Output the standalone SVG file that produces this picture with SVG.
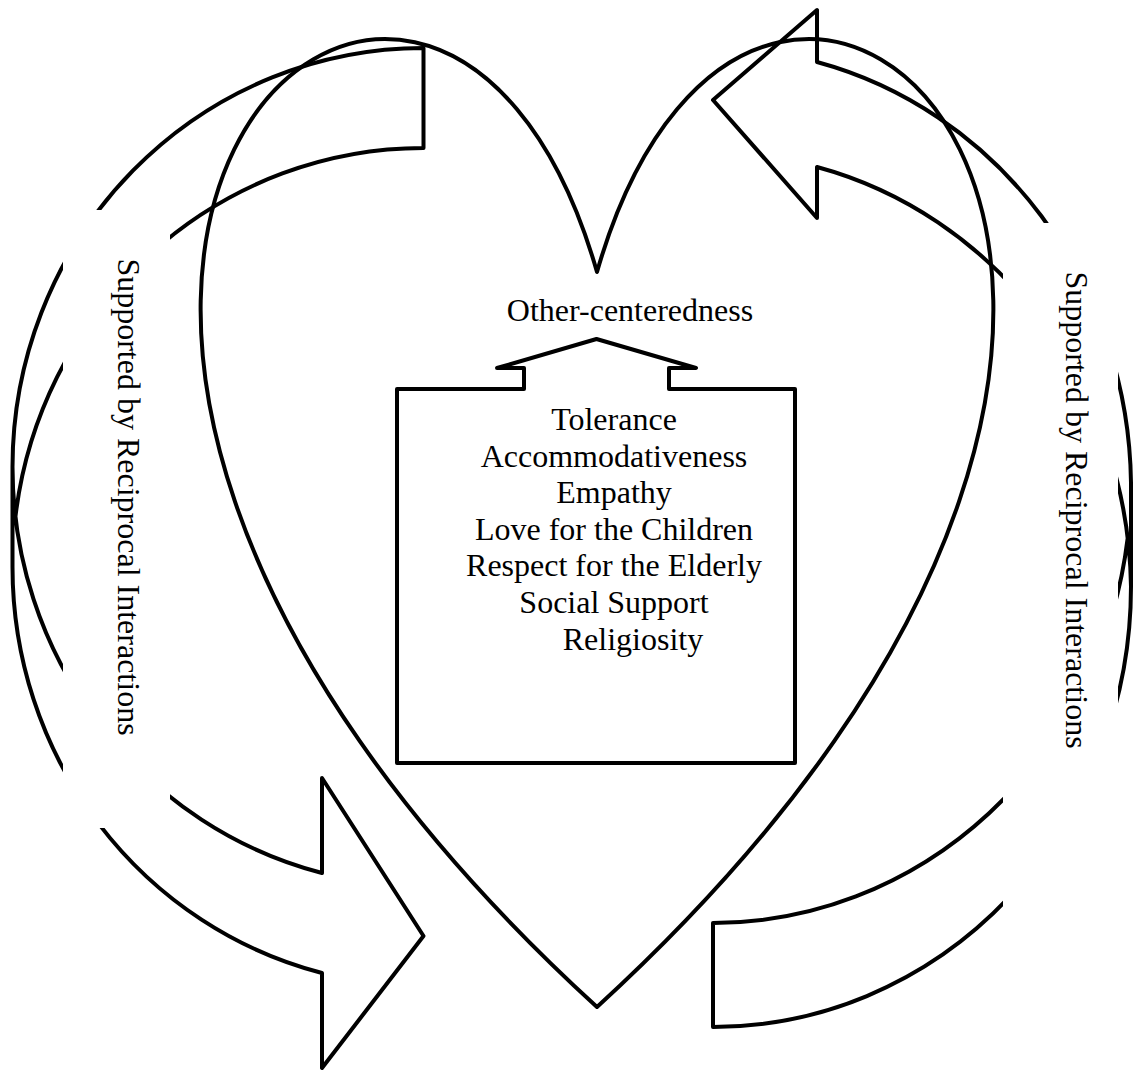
<svg xmlns="http://www.w3.org/2000/svg" width="1136" height="1070" viewBox="0 0 1136 1070">
  <style>
    .ln { fill: none; stroke: #000; stroke-width: 4; stroke-linejoin: round; }
    .box { fill: #fff; stroke: #000; stroke-width: 4; stroke-linejoin: round; }
    .mask { fill: #fff; stroke: none; }
    text { font-family: "Liberation Serif", "Times New Roman", serif; font-size: 32px; fill: #000; }
    .c { text-anchor: middle; }
  </style>

  <rect width="1136" height="1070" fill="#fff"/>

  <!-- curved arrows running around the heart -->
  <g id="connectors">
    <!-- left band: flat end at top, arrowhead at bottom pointing right -->
    <path id="cycle-left" class="ln" d="M12.5,467 A411,419 0 0 0 322,873 L322,778 L423.5,936 L322,1068 L322,973 A411,419 0 0 1 12.5,567 L12.5,467 A411,419 0 0 1 423.5,48 L423.5,148 A411,419 0 0 0 15.4,517"/>
    <!-- right band: flat end at bottom, arrowhead at top pointing left -->
    <path id="cycle-right" class="ln" d="M1131,586.5 A418,440.5 0 0 0 817,167 L817,218 L713,100 L817,10 L817,62 A418,440.5 0 0 1 1131,482.5 L1131,586.5 A418,440.5 0 0 1 713,1027 L713,923 A418,440.5 0 0 0 1127.7,538"/>
  </g>

  <!-- heart outline -->
  <g id="heart">
    <path class="ln" d="M597,272 C761,-299.7 1400.4,272 597,1007 C-206.4,272 433,-299.7 597,272 Z"/>
  </g>

  <!-- up-arrow callout holding the list of values -->
  <g id="values">
    <path class="box" d="M397,389 L524,389 L524,368 L497,368 L596.5,339 L696,368 L669,368 L669,389 L795,389 L795,763 L397,763 Z"/>
    <text class="c" x="614" y="430">Tolerance</text>
    <text class="c" x="614" y="466.6">Accommodativeness</text>
    <text class="c" x="614" y="503.2">Empathy</text>
    <text class="c" x="614" y="539.8">Love for the Children</text>
    <text class="c" x="614" y="576.4">Respect for the Elderly</text>
    <text class="c" x="614" y="613">Social Support</text>
    <text class="c" x="633" y="649.6">Religiosity</text>
  </g>

  <g id="goal">
    <text class="c" x="630" y="321">Other-centeredness</text>
  </g>

  <!-- side captions on white panels -->
  <g id="caption-left">
    <rect class="mask" x="63" y="210" width="107" height="618"/>
    <text class="c" transform="translate(118,497) rotate(90)">Supported by Reciprocal Interactions</text>
  </g>
  <g id="caption-right">
    <rect class="mask" x="1003" y="223" width="115" height="690"/>
    <text class="c" transform="translate(1066,510) rotate(90)">Supported by Reciprocal Interactions</text>
  </g>
</svg>
